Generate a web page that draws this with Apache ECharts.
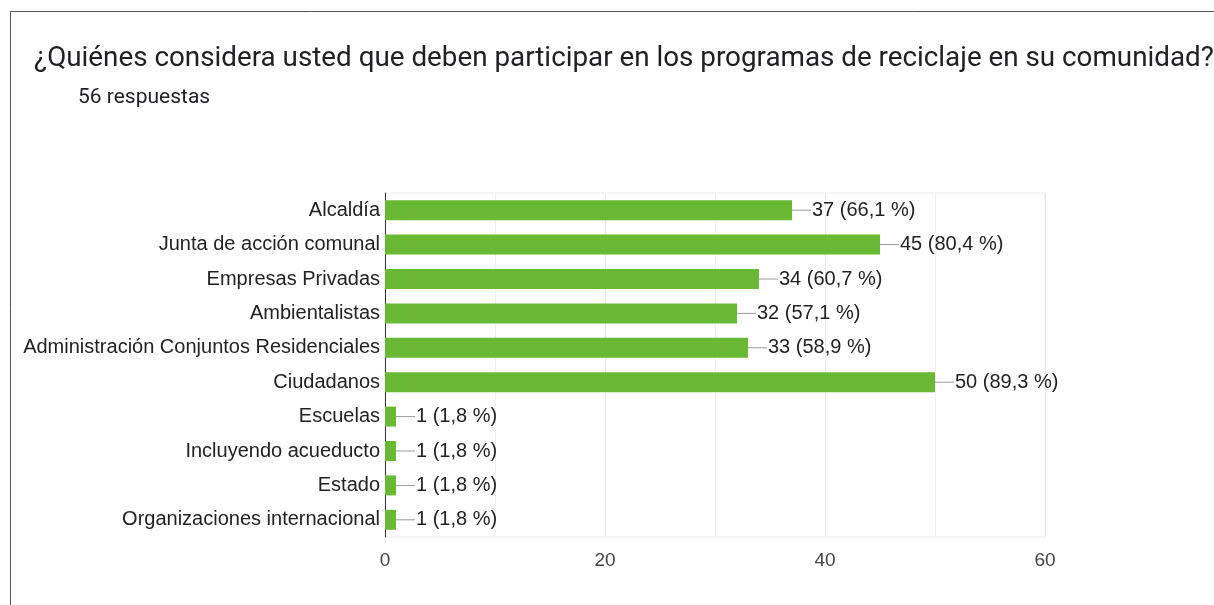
<!DOCTYPE html>
<html>
<head>
<meta charset="utf-8">
<script src="https://cdn.jsdelivr.net/npm/echarts@6/dist/echarts.min.js"></script>
<style>
  html, body { margin: 0; padding: 0; background: #fff; }
  #chart { width: 1214px; height: 605px; }
</style>
</head>
<body>
<div id="chart"></div>
<script>
// survey answers, top to bottom as in the picture
const categories = [
  'Alcaldía',
  'Junta de acción comunal',
  'Empresas Privadas',
  'Ambientalistas',
  'Administración Conjuntos Residenciales',
  'Ciudadanos',
  'Escuelas',
  'Incluyendo acueducto',
  'Estado',
  'Organizaciones internacional'
];
const counts = [37, 45, 34, 32, 33, 50, 1, 1, 1, 1];
const percentLabels = ['66,1 %', '80,4 %', '60,7 %', '57,1 %', '58,9 %', '89,3 %', '1,8 %', '1,8 %', '1,8 %', '1,8 %'];

const labelFont = 'Liberation Sans';

const chart = echarts.init(document.getElementById('chart'));

const option = {
  animation: false,
  title: [
    {
      text: '¿Quiénes considera usted que deben participar en los programas de reciclaje en su comunidad?',
      left: 29,
      top: 40,
      textStyle: { fontFamily: 'Roboto', fontSize: 27.8, fontWeight: 'normal', color: '#202124' }
    },
    {
      text: '56 respuestas',
      left: 73,
      top: 82,
      textStyle: { fontFamily: 'Roboto', fontSize: 21, fontWeight: 'normal', color: '#202124' }
    }
  ],
  graphic: [
    {
      type: 'rect',
      silent: true,
      shape: { x: 10.5, y: 11.5, width: 1400, height: 800 },
      style: { fill: 'none', stroke: '#555', lineWidth: 1 }
    }
  ],
  grid: {
    left: 385, right: 169, top: 193, bottom: 68,
    show: true, borderColor: '#ececec', borderWidth: 1
  },
  xAxis: {
    type: 'value',
    min: 0,
    max: 60,
    interval: 20,
    axisLine: { show: false },
    axisTick: { show: false },
    axisLabel: { fontFamily: labelFont, fontSize: 19, color: '#444', margin: 14 },
    splitLine: { lineStyle: { color: '#e8e8e8' } },
    minorTick: { show: false, splitNumber: 2 },
    minorSplitLine: { show: true, lineStyle: { color: '#efefef' } }
  },
  yAxis: {
    type: 'category',
    data: categories,
    inverse: true,
    axisLine: { show: true, lineStyle: { color: '#333', width: 1 } },
    axisTick: { show: false },
    axisLabel: { fontFamily: labelFont, fontSize: 20, color: '#222', margin: 5 }
  },
  series: [
    {
      type: 'bar',
      data: counts,
      barWidth: 20,
      itemStyle: { color: '#6ab934' },
      label: {
        show: true,
        position: 'right',
        distance: 0,
        formatter: p => '{l|}{v|' + counts[p.dataIndex] + ' (' + percentLabels[p.dataIndex] + ')}',
        rich: {
          l: { width: 19, height: 1, backgroundColor: '#999', verticalAlign: 'middle' },
          v: { fontFamily: labelFont, fontSize: 20, color: '#222', verticalAlign: 'middle', padding: [0, 0, 0, 1] }
        }
      }
    }
  ]
};

chart.setOption(option);
</script>
</body>
</html>
